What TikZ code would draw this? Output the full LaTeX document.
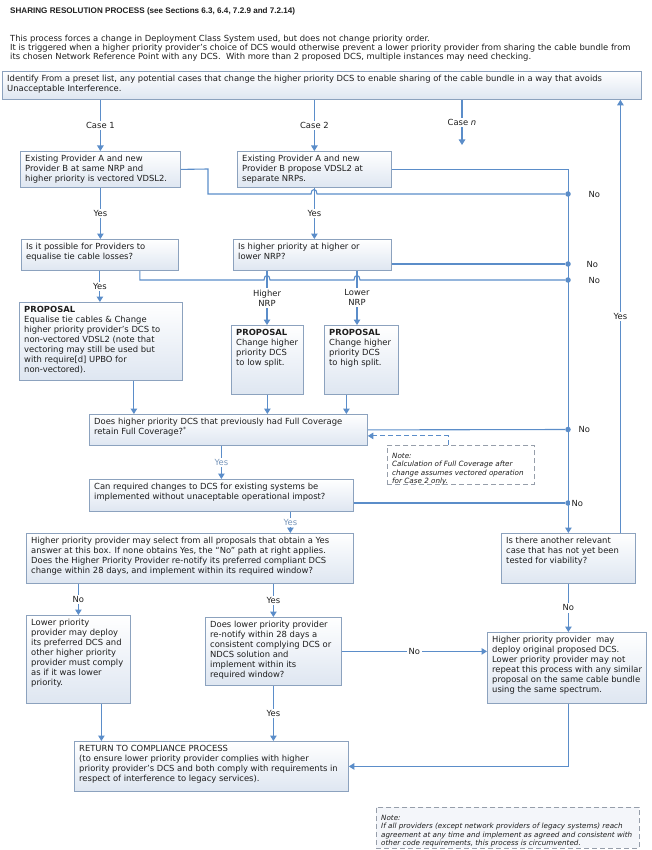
\documentclass[tikz,border=0pt]{standalone}
\usepackage{fontspec}
\setmainfont{DejaVu Sans}
\newfontfamily\titlefont{Liberation Sans}
\usetikzlibrary{arrows.meta}
\definecolor{linecol}{RGB}{91,141,201}
\definecolor{boxline}{RGB}{140,162,190}
\definecolor{boxfill}{RGB}{222,230,241}
\definecolor{notegray}{RGB}{150,158,170}
\definecolor{notefill}{RGB}{244,246,250}
\definecolor{paleyes}{RGB}{120,150,186}
\definecolor{ink}{RGB}{30,30,30}
\newcommand\bodysize{\fontsize{8.4}{10}\selectfont}
\newcommand\notesize{\fontsize{7.2}{8.5}\selectfont\itshape}
\tikzset{
 flowbox/.style={draw=boxline, line width=0.8pt, top color=white, bottom color=boxfill, anchor=north west, inner sep=0pt},
 notebox/.style={draw=notegray, line width=0.8pt, dash pattern=on 5pt off 3pt, anchor=north west, inner sep=0pt},
 boxtext/.style={anchor=north west, align=left, inner sep=0pt, xshift=5pt, yshift=-4pt, text=ink, font=\bodysize},
 notetext/.style={boxtext, font=\notesize, yshift=-4pt},
 flow/.style={draw=linecol, line width=1.1pt},
 arr/.style={flow, -{Triangle[length=5.5pt,width=6.5pt]}},
 lbl/.style={fill=white, inner sep=1.5pt, text=ink, font=\bodysize, align=center},
 dot/.style={circle, fill=linecol, inner sep=0pt, minimum size=5.5pt},
}

\begin{document}
\begin{tikzpicture}[x=1pt, y=-1pt]
        \useasboundingbox (0,0) rectangle (652,850);

        \node[anchor=west, inner sep=0pt, text=ink, font=\titlefont\fontsize{8.1}{9}\selectfont\bfseries] (title) at (10,11)
            {SHARING RESOLUTION PROCESS (see Sections 6.3, 6.4, 7.2.9 and 7.2.14)};
        \node[anchor=north west, align=left, inner sep=0pt, text=ink, font=\fontsize{8.4}{9}\selectfont] (intro) at (10,35)
            {This process forces a change in Deployment Class System used, but does not change priority order.\\
             It is triggered when a higher priority provider’s choice of DCS would otherwise prevent a lower priority provider from sharing the cable bundle from\\
             its chosen Network Reference Point with any DCS.\ \ With more than 2 proposed DCS, multiple instances may need checking.};

        \node[flowbox, minimum width=639pt, minimum height=28pt] (ident) at (2,71) {};
        \node[boxtext] (ident-t) at (ident.north west)
            {Identify From a preset list, any potential cases that change the higher priority DCS to enable sharing of the cable bundle in a way that avoids\\Unacceptable Interference.};

        \node[flowbox, minimum width=160pt, minimum height=36pt] (a) at (20,151) {};
        \node[boxtext] (a-t) at (a.north west) {Existing Provider A and new\\Provider B at same NRP and\\higher priority is vectored VDSL2.};
        \node[flowbox, minimum width=154pt, minimum height=36pt] (b) at (237,151) {};
        \node[boxtext] (b-t) at (b.north west) {Existing Provider A and new\\Provider B propose VDSL2 at\\separate NRPs.};

        \node[flowbox, minimum width=157pt, minimum height=31pt] (c) at (21,239) {};
        \node[boxtext] (c-t) at (c.north west) {Is it possible for Providers to\\equalise tie cable losses?};
        \node[flowbox, minimum width=158pt, minimum height=31pt] (d) at (233,239) {};
        \node[boxtext] (d-t) at (d.north west) {Is higher priority at higher or\\lower NRP?};

        \node[flowbox, minimum width=163pt, minimum height=78pt] (e) at (19,302) {};
        \node[boxtext] (e-t) at (e.north west) {\textbf{PROPOSAL}\\Equalise tie cables \& Change\\higher priority provider’s DCS to\\non-vectored VDSL2 (note that\\vectoring may still be used but\\with require[d] UPBO for\\non-vectored).};
        \node[flowbox, minimum width=72pt, minimum height=69pt] (f) at (231,325) {};
        \node[boxtext] (f-t) at (f.north west) {\textbf{PROPOSAL}\\Change higher\\priority DCS\\to low split.};
        \node[flowbox, minimum width=74pt, minimum height=69pt] (g) at (324,325) {};
        \node[boxtext] (g-t) at (g.north west) {\textbf{PROPOSAL}\\Change higher\\priority DCS\\to high split.};

        \node[flowbox, minimum width=278pt, minimum height=31pt] (h) at (89,414) {};
        \node[boxtext] (h-t) at (h.north west) {Does higher priority DCS that previously had Full Coverage\\retain Full Coverage?\textsuperscript{*}};
        \node[notebox, minimum width=147pt, minimum height=39pt] (note1) at (387,445) {};
        \node[notetext] (note1-t) at (note1.north west) {Note:\\Calculation of Full Coverage after\\change assumes vectored operation\\for Case 2 only.};

        \node[flowbox, minimum width=264pt, minimum height=32pt] (i) at (89,479) {};
        \node[boxtext] (i-t) at (i.north west) {Can required changes to DCS for existing systems be\\implemented without unaceptable operational impost?};

        \node[flowbox, minimum width=134pt, minimum height=50pt] (j) at (501,533) {};
        \node[boxtext] (j-t) at (j.north west) {Is there another relevant\\case that has not yet been\\tested for viability?};
        \node[flowbox, minimum width=327pt, minimum height=50pt] (k) at (26,533) {};
        \node[boxtext] (k-t) at (k.north west) {Higher priority provider may select from all proposals that obtain a Yes\\answer at this box. If none obtains Yes, the “No” path at right applies.\\Does the Higher Priority Provider re-notify its preferred compliant DCS\\change within 28 days, and implement within its required window?};

        \node[flowbox, minimum width=104pt, minimum height=88pt] (l) at (26,615) {};
        \node[boxtext] (l-t) at (l.north west) {Lower priority\\provider may deploy\\its preferred DCS and\\other higher priority\\provider must comply\\as if it was lower\\priority.};
        \node[flowbox, minimum width=136pt, minimum height=68pt] (m) at (205,617) {};
        \node[boxtext] (m-t) at (m.north west) {Does lower priority provider\\re-notify within 28 days a\\consistent complying DCS or\\NDCS solution and\\implement within its\\required window?};
        \node[flowbox, minimum width=159pt, minimum height=71pt] (o) at (487,632) {};
        \node[boxtext] (o-t) at (o.north west) {Higher priority provider\ \ may\\deploy original proposed DCS.\\Lower priority provider may not\\repeat this process with any similar\\proposal on the same cable bundle\\using the same spectrum.};

        \node[flowbox, minimum width=274pt, minimum height=50pt] (n) at (74,741) {};
        \node[boxtext] (n-t) at (n.north west) {RETURN TO COMPLIANCE PROCESS\\(to ensure lower priority provider complies with higher\\priority provider’s DCS and both comply with requirements in\\respect of interference to legacy services).};
        \node[notebox, fill=notefill, minimum width=263pt, minimum height=41pt] (note2) at (376,807) {};
        \node[notetext] (note2-t) at (note2.north west) {Note:\\If all providers (except network providers of legacy systems) reach\\agreement at any time and implement as agreed and consistent with\\other code requirements, this process is circumvented.};

        \node[dot] (jn1) at (568,194) {};
        \node[dot] (jn2) at (568,264) {};
        \node[dot] (jn3) at (568,280) {};
        \node[dot] (jn4) at (568,429.5) {};
        \node[dot] (jn5) at (568,503) {};
        \node[lbl, anchor=west] (no1) at ([xshift=19pt]jn1) {No};
        \node[lbl, anchor=west] (no2) at ([xshift=17pt]jn2) {No};
        \node[lbl, anchor=west] (no3) at ([xshift=19pt]jn3) {No};
        \node[lbl, anchor=west] (no4) at ([xshift=9pt]jn4) {No};
        \node[lbl, anchor=west] (no5) at ([xshift=2pt]jn5) {No};

        \coordinate (casen) at (462,145);
        \coordinate (hi) at (267,0);
        \coordinate (lo) at (357,0);

        \draw[arr] (ident.south -| a.north) -- node[lbl] (case1) {Case 1} (a.north);
        \draw[arr] (ident.south -| b.north) -- node[lbl] (case2) {Case 2} (b.north);
        \draw[arr] (ident.south -| casen) -- node[lbl] (case3) {Case \textit{n}} (casen);

        \draw[arr] (b.east) -| (j.north);
        \draw[flow] (a.east) -- (208,169) -- (208,194) -- (311,194) .. controls (311,188) and (317,188) .. (317,194) -- (jn1);
        \draw[arr] (a.south) -- node[lbl] (yes1) {Yes} (a.south |- c.north);
        \draw[arr] (b.south) -- node[lbl] (yes2) {Yes} (b.south |- d.north);
        \draw[flow] (d.east |- jn2) -- (jn2);
        \draw[flow] ([xshift=40pt]c.south) |- (264,280) .. controls (264,274) and (270,274) .. (270,280)
            -- (354,280) .. controls (354,274) and (360,274) .. (360,280) -- (jn3);
        \draw[arr] (c.south) -- node[lbl] (yes3) {Yes} (c.south |- e.north);
        \draw[arr] (d.south -| hi) -- node[lbl] (hinrp) {Higher\\NRP} (f.north -| hi);
        \draw[arr] (d.south -| lo) -- node[lbl] (lonrp) {Lower\\NRP} (g.north -| lo);

        \draw[arr] ([xshift=33pt]e.south) -- ([xshift=33pt]e.south |- h.north);
        \draw[arr] (f.south) -- (f.south |- h.north);
        \draw[arr] ([xshift=-15pt]g.south) -- ([xshift=-15pt]g.south |- h.north);
        \draw[flow] (h.east) -- (jn4);
        \draw[arr, line width=0.9pt, dash pattern=on 5pt off 3pt] ([xshift=61pt]note1.north west) |- ([yshift=-6pt]h.east);

        \draw[arr] (i.north |- h.south) -- node[lbl, text=paleyes] (yes4) {Yes} (i.north);
        \draw[flow] (i.east |- jn5) -- (jn5);
        \draw[arr] ([xshift=69pt]i.south) -- node[lbl, text=paleyes] (yes5) {Yes} ([xshift=69pt]i.south |- k.north);
        \draw[arr] ([xshift=52pt]j.north) -- node[lbl] (yes6) {Yes} ([xshift=52pt]j.north |- ident.south);

        \draw[arr] (l.north |- k.south) -- node[lbl] (no6) {No} (l.north);
        \draw[arr] (m.north |- k.south) -- node[lbl] (yes7) {Yes} (m.north);
        \draw[arr] (j.south) -- node[lbl] (no7) {No} (j.south |- o.north);
        \draw[arr] (m.east) -- node[lbl] (no8) {No} (m.east -| o.west);
        \draw[arr] (m.south) -- node[lbl] (yes8) {Yes} (m.south |- n.north);
        \draw[arr] ([xshift=23pt]l.south) -- ([xshift=23pt]l.south |- n.north);
        \draw[arr] ([xshift=2pt]o.south) |- (n.east);
\end{tikzpicture}
\end{document}
